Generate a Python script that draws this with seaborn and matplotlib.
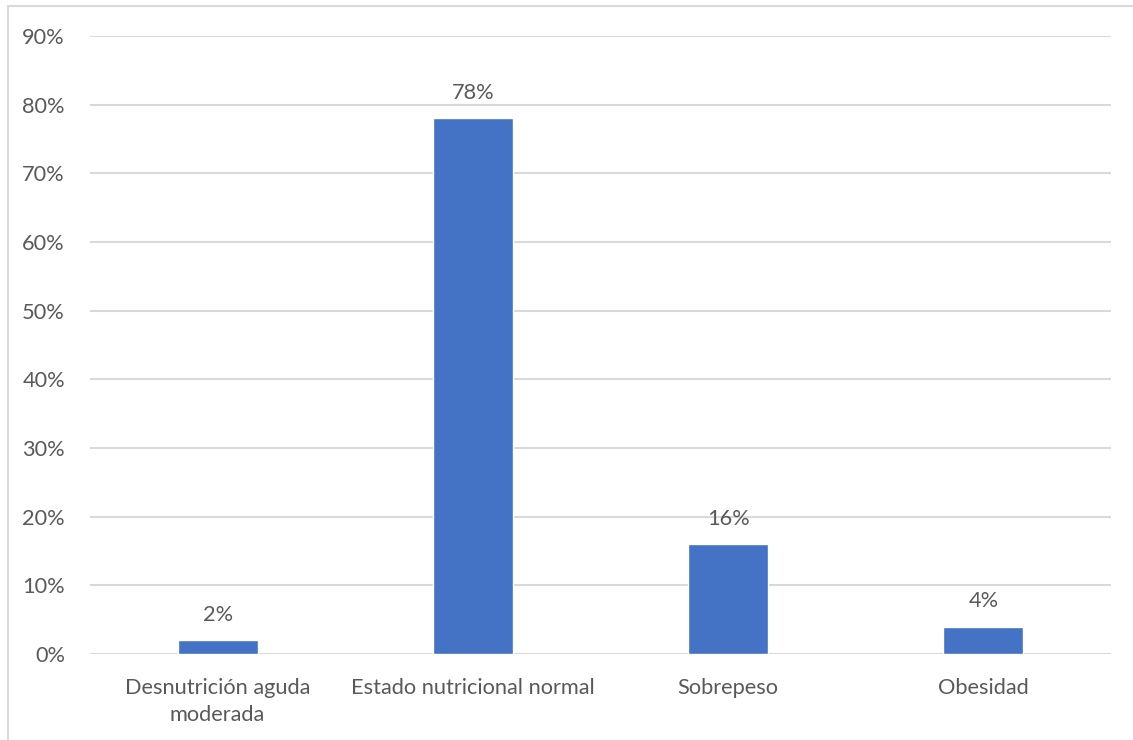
import matplotlib
matplotlib.use("Agg")
import matplotlib.pyplot as plt
import matplotlib.patches as mpatches
import seaborn as sns
import pandas as pd

categories = ["Desnutrición aguda\nmoderada", "Estado nutricional normal", "Sobrepeso", "Obesidad"]
values = [2, 78, 16, 4]
y_ticks = [0, 10, 20, 30, 40, 50, 60, 70, 80, 90]
y_tick_labels = [f"{t}%" for t in y_ticks]

sns.set_theme(style="white")
plt.rcParams["font.family"] = ["Lato", "DejaVu Sans"]

text_color = "#595959"
grid_color = "#D9D9D9"
bar_color = "#4472C4"
font_size = 15.7

df = pd.DataFrame({"categoria": categories, "valor": values})

fig = plt.figure(figsize=(11.33, 7.4), dpi=100)
ax = fig.add_axes([0.0794, 0.1162, 0.9012, 0.8352])

sns.barplot(data=df, x="categoria", y="valor", color=bar_color, width=0.313,
            saturation=1, ax=ax, zorder=3)

ax.set_ylim(0, 90)
ax.set_xlim(-0.5, len(categories) - 0.5)
ax.set_yticks(y_ticks)
ax.set_yticklabels(y_tick_labels)
ax.yaxis.grid(True, color=grid_color, linewidth=1.5, zorder=0)
ax.set_axisbelow(True)
for s in ax.spines.values():
    s.set_visible(False)
ax.set_xlabel("")
ax.set_ylabel("")
ax.tick_params(axis="y", length=0, pad=18, labelsize=font_size, labelcolor=text_color)
ax.tick_params(axis="x", length=0, pad=17, labelsize=font_size, labelcolor=text_color)
for lbl in ax.get_xticklabels():
    lbl.set_linespacing(1.45)

for container in ax.containers:
    ax.bar_label(container, labels=[f"{v}%" for v in values], padding=11,
                 fontsize=font_size, color=text_color)

# chart-area frame
fig.patches.append(mpatches.Rectangle((8 / 1133, -0.05), 1.2, 1 - 6 / 740 + 0.05,
                                      transform=fig.transFigure, fill=False,
                                      edgecolor=grid_color, linewidth=1.5))

fig.savefig("out.png", dpi=100, facecolor="white")
